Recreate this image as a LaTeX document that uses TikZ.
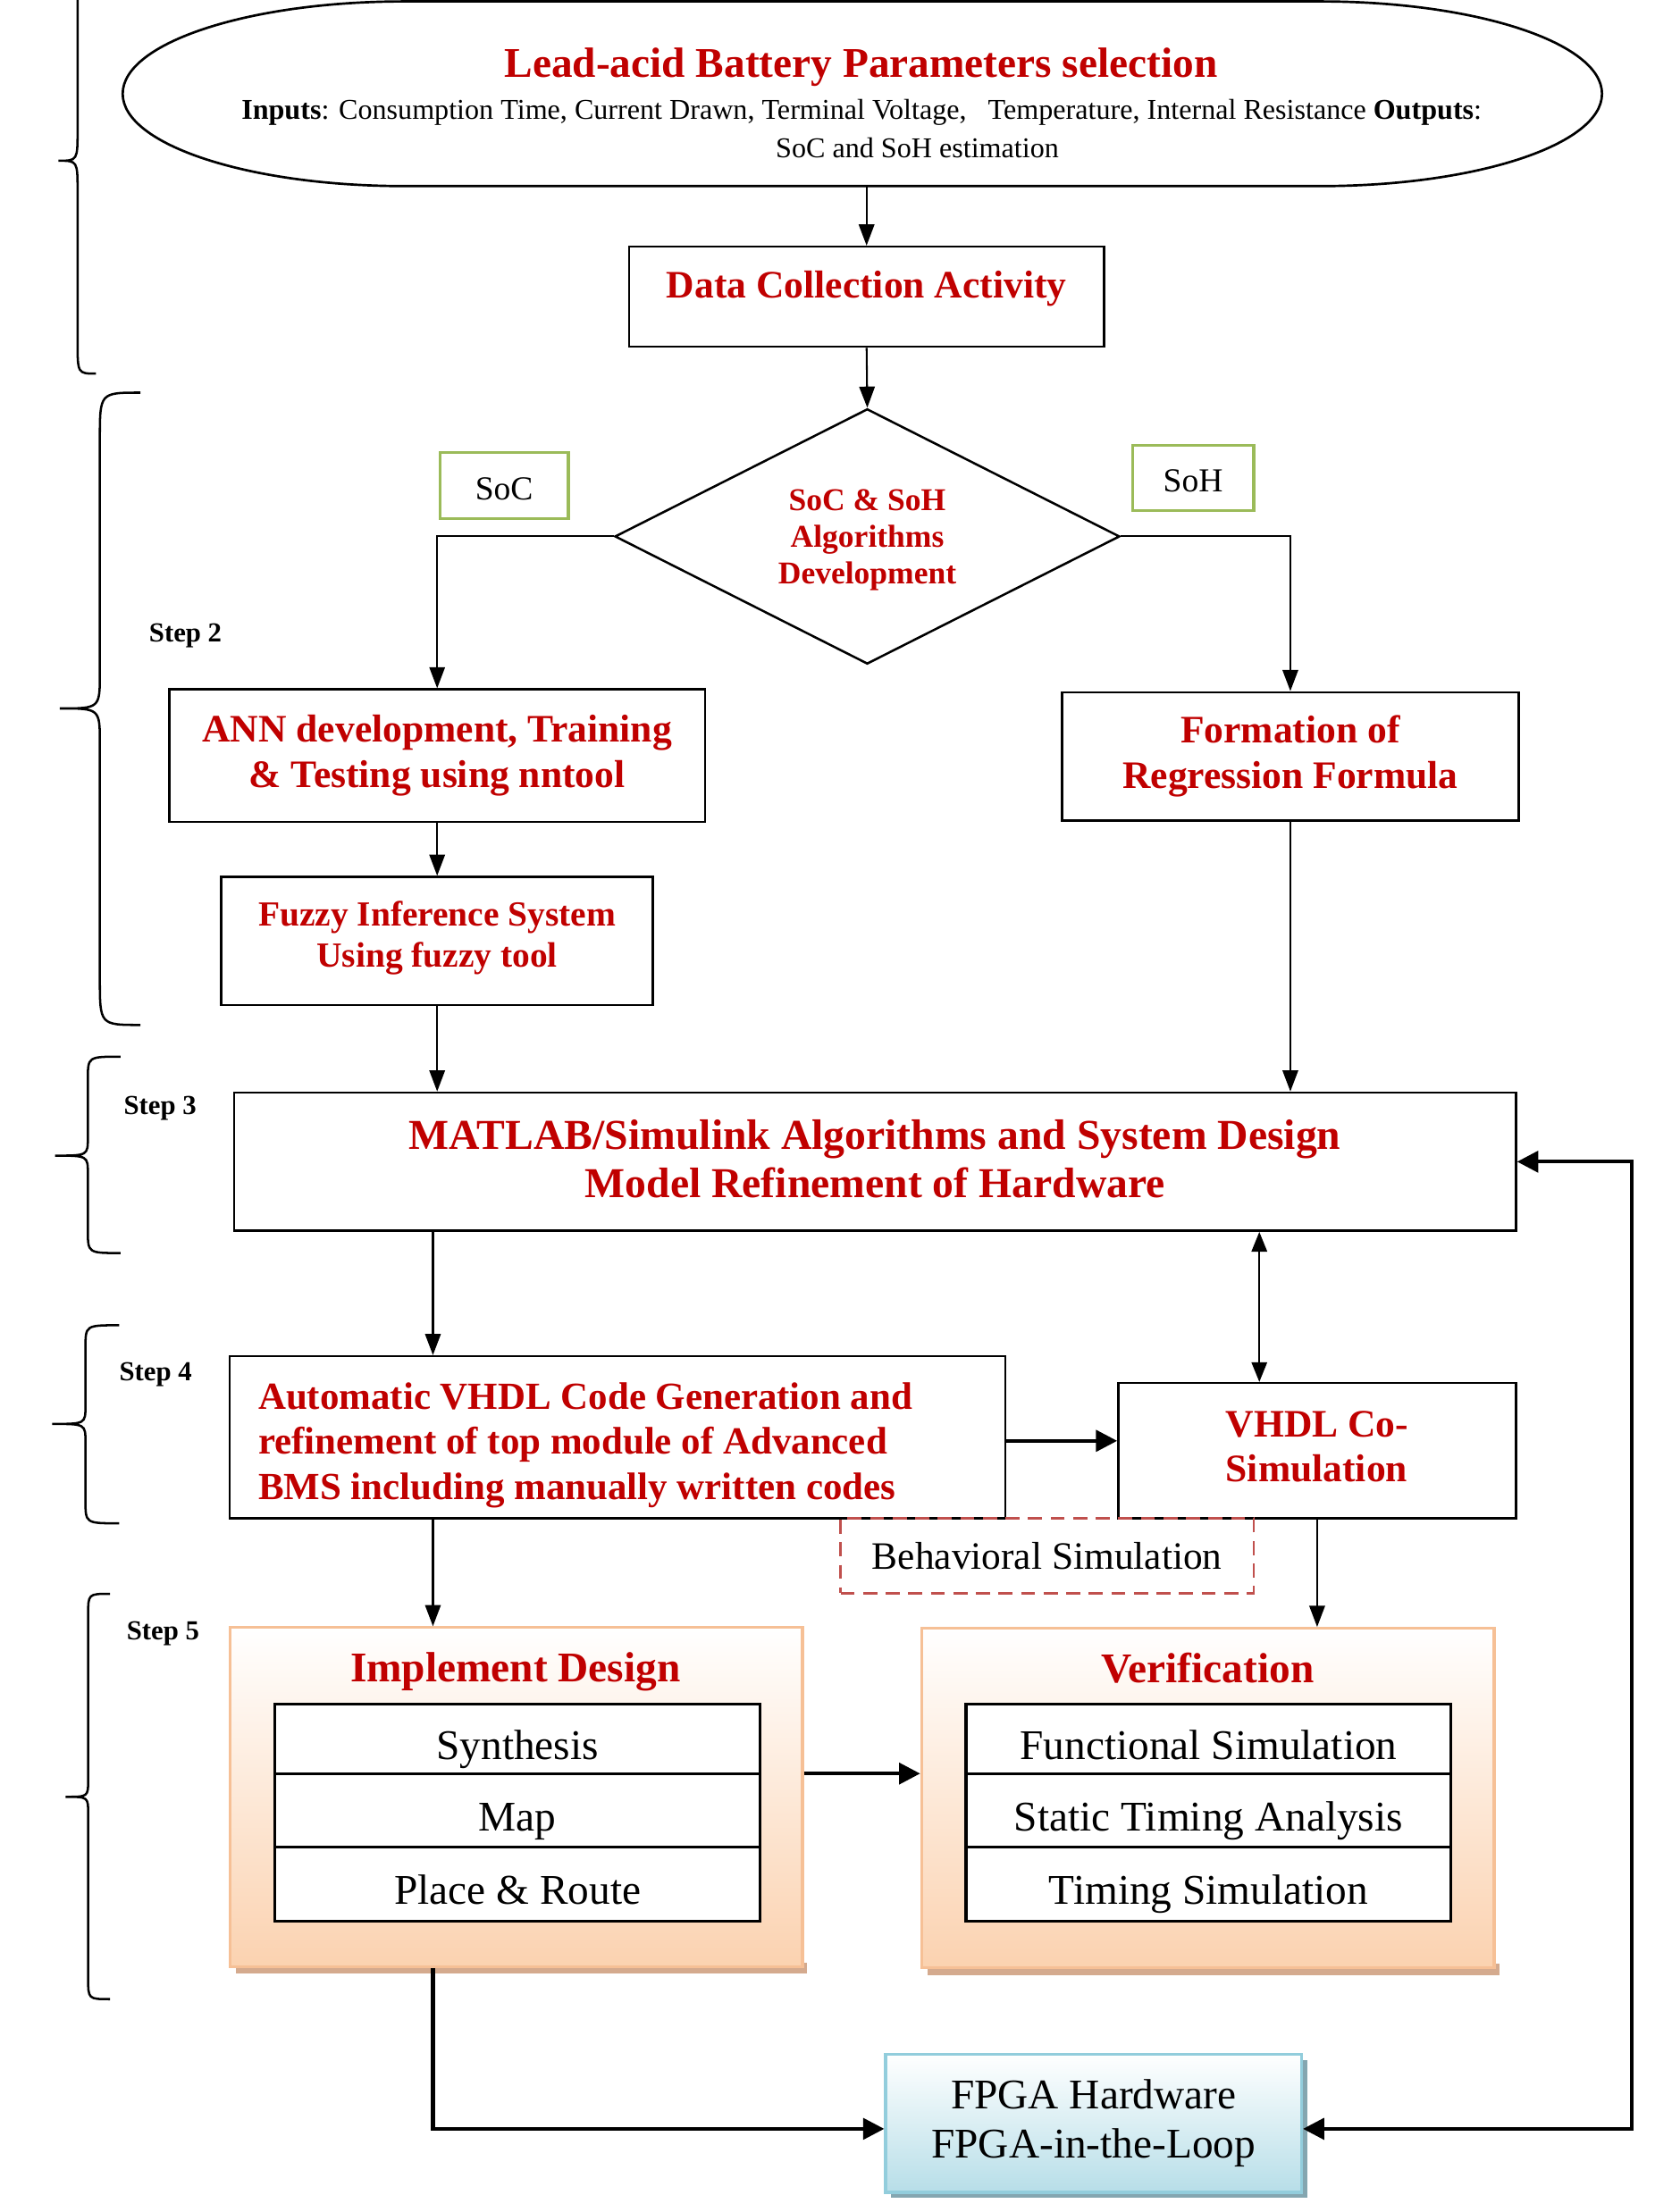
\documentclass[tikz,border=0pt]{standalone}
\usepackage{fontspec}
\setmainfont{Liberation Serif}
\usetikzlibrary{arrows.meta,shapes.geometric,calc}
\definecolor{dred}{RGB}{192,0,0}
\definecolor{sgreen}{RGB}{155,187,89}
\definecolor{oborder}{RGB}{246,192,150}
\definecolor{ofill}{RGB}{251,210,176}
\definecolor{oshadow}{RGB}{212,170,142}
\definecolor{bborder}{RGB}{146,205,220}
\definecolor{bfill}{RGB}{183,222,232}
\definecolor{bshadow}{RGB}{132,166,176}
\definecolor{dashred}{RGB}{192,80,77}
\newcommand{\mybrace}[8]{%
  \draw[brc] (#1,#4) .. controls (#2,#4) .. (#2,#4+#7) -- (#2,#5-#8)
    .. controls (#2,#5) .. (#3,#5) .. controls (#2,#5) .. (#2,#5+#8)
    -- (#2,#6-#7) .. controls (#2,#6) .. (#1,#6);}
\begin{document}
\begin{tikzpicture}[x=1pt,y=-1pt,
  box/.style={draw=black, line width=1.6pt, rectangle, inner sep=0pt, align=center, fill=white},
  rtxt/.style={text=dred, font=\bfseries\fontsize{27.6}{32}\selectfont},
  ntxt/.style={text=black, font=\fontsize{30}{35}\selectfont},
  arr/.style={-{Triangle[length=15pt,width=11pt]}, line width=1.3pt},
  arrb/.style={{Triangle[length=14pt,width=11pt]}-{Triangle[length=14pt,width=11pt]}, line width=1.3pt},
  thk/.style={-{Triangle[length=15pt,width=15pt]}, line width=2.6pt},
  thkb/.style={{Triangle[length=15pt,width=15pt]}-{Triangle[length=15pt,width=15pt]}, line width=2.6pt},
  steplbl/.style={font=\bfseries\fontsize{19.5}{22}\selectfont, inner sep=0pt},
  brc/.style={line width=1.6pt},
  greenbox/.style={draw=sgreen, line width=2pt, inner sep=0pt, font=\fontsize{23.8}{28}\selectfont, text height=20pt, text depth=0pt},
  rowbox/.style={draw=black, line width=2pt, fill=white, inner sep=0pt, minimum width=344pt, ntxt, text height=35pt, text depth=6pt},
  obox/.style={draw=oborder, line width=2pt, top color=white, bottom color=ofill, minimum width=406pt, minimum height=240.5pt, inner sep=0pt}
]
\fill[white] (0,0) rectangle (1173,1569);
\useasboundingbox (0,0) rectangle (1173,1569);

% braces
\mybrace{68}{55}{41.5}{-37}{114}{265}{23}{22}
\mybrace{99.5}{70.8}{42.3}{278.5}{502.5}{727}{33}{25}
\mybrace{85.5}{62.3}{39}{749.5}{819.7}{888.8}{16}{13}
\mybrace{84.5}{60.6}{37}{940}{1010}{1080.5}{16}{13}
\mybrace{78}{62.5}{46.5}{1130.5}{1274.5}{1418}{15}{12}

\node[steplbl] (s2) at (131.5,451) {Step 2};
\node[steplbl] (s3) at (113.5,786) {Step 3};
\node[steplbl] (s4) at (110.4,975) {Step 4};
\node[steplbl] (s5) at (115.6,1159) {Step 5};

% top stadium
\node[minimum width=1049pt, minimum height=131pt, inner sep=0pt] (lead) at (611.5,66.5) {};
\draw[line width=1.7pt] (287,1) -- (936,1) arc[start angle=-90,end angle=90,x radius=200,y radius=65.5]
  -- (287,132) arc[start angle=90,end angle=270,x radius=200,y radius=65.5] -- cycle;
\node[rtxt, font=\bfseries\fontsize{30}{34}\selectfont] (leadt) at (610.5,47.5) {Lead-acid Battery Parameters selection};
\node[font=\fontsize{20.35}{24}\selectfont] (leadin) at (611,79.5) {\textbf{Inputs}: Consumption Time, Current Drawn, Terminal Voltage,\ \ \ Temperature, Internal Resistance \textbf{Outputs}:};
\node[font=\fontsize{20.35}{24}\selectfont] (leadout) at (650.5,105) {SoC and SoH estimation};

% data collection
\node[box, minimum width=337pt, minimum height=71pt] (data) at (614.5,210.5) {};
\node[rtxt] (datat) at (614.5,204.5) {Data Collection Activity};

% diamond
\node[draw, diamond, line width=1.6pt, minimum width=358pt, minimum height=181pt, inner sep=0pt, aspect=1.98] (dia) at (615,380.5) {};
\node[text=dred, font=\bfseries\fontsize{22.5}{26}\selectfont, align=center] (diat) at (615,383) {SoC \& SoH\\Algorithms\\Development};

\node[greenbox, minimum width=91pt, minimum height=47pt] (soc) at (357.5,344.5) {SoC};
\node[greenbox, minimum width=86pt, minimum height=46pt] (soh) at (846,339) {SoH};

\node[box, rtxt, minimum width=380pt, minimum height=94pt] (ann) at (310,536) {ANN development, Training\\\& Testing using nntool};
\node[box, rtxt, minimum width=324pt, minimum height=91pt] (form) at (915,536.5) {Formation of\\Regression Formula};
\node[box, minimum width=306pt, minimum height=91pt] (fuzzy) at (310,667.5) {};
\node[rtxt, align=center, font=\bfseries\fontsize{25}{29}\selectfont] (fuzzyt) at (310,665.5) {Fuzzy Inference System\\Using fuzzy tool};

\node[box, minimum width=909pt, minimum height=98pt] (matlab) at (620.5,824) {};
\node[rtxt, align=center, font=\bfseries\fontsize{30.2}{34}\selectfont] (matlabt) at (620.5,822) {MATLAB/Simulink Algorithms and System Design\\Model Refinement of Hardware};

\node[box, minimum width=550pt, minimum height=115pt] (auto) at (438,1019.5) {};
\node[rtxt, align=left, anchor=west, inner sep=0pt, font=\bfseries\fontsize{27.2}{32}\selectfont] (autot) at (183,1025) {Automatic VHDL Code Generation and\\refinement of top module of Advanced\\BMS including manually written codes};
\node[box, minimum width=282pt, minimum height=96pt] (vhdl) at (934,1029) {};
\node[rtxt, align=left] (vhdlt) at (934,1026) {VHDL Co-\\Simulation};

% implement design
\fill[oshadow] (167,1392) rectangle (572,1400);
\node[obox] (impl) at (366,1274.75) {};
\node[rtxt, font=\bfseries\fontsize{30}{34}\selectfont] (implt) at (365.5,1186) {Implement Design};
\node[rowbox, minimum height=49.5pt] (syn) at (367,1233.25) {Synthesis};
\node[rowbox, minimum height=52pt] (map) at (367,1284) {Map};
\node[rowbox, minimum height=52.5pt] (par) at (367,1336.25) {Place \& Route};

% verification
\fill[oshadow] (658,1393) rectangle (1063,1401);
\node[obox] (verif) at (856.5,1275.25) {};
\node[rtxt, font=\bfseries\fontsize{30}{34}\selectfont] (verift) at (856.5,1183) {Verification};
\node[rowbox, minimum height=49.5pt] (fun) at (857,1233.25) {Functional Simulation};
\node[rowbox, minimum height=52pt] (sta) at (857,1284) {Static Timing Analysis};
\node[rowbox, minimum height=52.5pt] (tim) at (857,1336.25) {Timing Simulation};

% FPGA
\fill[bshadow] (632,1461) rectangle (927,1559);
\node[draw=bborder, line width=2pt, top color=white, bottom color=bfill, minimum width=295pt, minimum height=98pt,
  inner sep=0pt, align=center, font=\fontsize{30}{35}\selectfont] (fpga) at (775.5,1506) {FPGA Hardware\\FPGA-in-the-Loop};

% connectors
\coordinate (cL) at (307,0);
\coordinate (cV) at (893,0);
\coordinate (cA) at (0,1022);
\coordinate (cI) at (0,1258);
\coordinate (cB) at (0,1510);
\coordinate (cR) at (1157,0);
\draw[arr] (data.north |- lead.south) -- (data.north);
\draw[arr] (data.south) -- (dia.north);
\draw[arr] (dia.west) -| (ann.north);
\draw[arr] (dia.east) -| (form.north);
\draw[arr] (ann.south) -- (fuzzy.north);
\draw[arr] (fuzzy.south) -- (fuzzy.south |- matlab.north);
\draw[arr] (form.south) -- (form.south |- matlab.north);
\draw[arr] (matlab.south -| cL) -- (auto.north -| cL);
\draw[arrb] (matlab.south -| cV) -- (vhdl.north -| cV);
\draw[thk] (auto.east |- cA) -- (vhdl.west |- cA);
\draw[arr] (auto.south -| cL) -- (impl.north -| cL);
\draw[arr] (vhdl.south) -- (vhdl.south |- verif.north);
\draw[thk] (impl.east |- cI) -- (verif.west |- cI);
\draw[thk] (impl.south -| cL) -- (cL |- cB) -- (fpga.west |- cB);
\draw[thkb] (matlab.east) -- (matlab.east -| cR) -- (cR |- cB) -- (fpga.east |- cB);

% behavioral simulation (dashed)
\node[draw=dashred, dash pattern=on 10pt off 6pt, line width=1.8pt, minimum width=293pt, minimum height=53pt,
  inner sep=0pt, font=\fontsize{27.5}{32}\selectfont] (beh) at (742.5,1103.5) {Behavioral Simulation};
\end{tikzpicture}
\end{document}
